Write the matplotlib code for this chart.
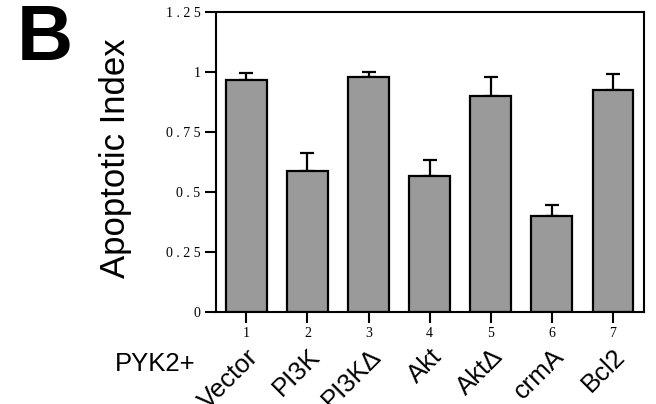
import matplotlib
matplotlib.use("Agg")
import matplotlib.pyplot as plt
import matplotlib.transforms as mtransforms

# data
positions = [1, 2, 3, 4, 5, 6, 7]
categories = ['Vector', 'PI3K', 'PI3K\u0394', 'Akt', 'Akt\u0394', 'crmA', 'Bcl2']
apoptotic_index = [0.967, 0.588, 0.978, 0.567, 0.900, 0.400, 0.925]
upper_err = [0.030, 0.076, 0.022, 0.065, 0.078, 0.047, 0.067]
yticks = [0, 0.25, 0.5, 0.75, 1, 1.25]
ytick_labels = ['0', '0.25', '0.5', '0.75', '1', '1.25']

fig = plt.figure(figsize=(6.56, 4.04), dpi=100)
ax = fig.add_axes([0.329, 0.2277, 0.652, 0.7423])

ax.bar(positions, apoptotic_index, width=0.67, color='#9a9a9a',
       edgecolor='black', linewidth=1.6, zorder=2)
ax.errorbar(positions, apoptotic_index, yerr=[[0] * 7, upper_err], fmt='none',
            ecolor='black', elinewidth=1.6, capsize=5, capthick=1.6, zorder=1)

ax.set_xlim(0.5, 7.5)
ax.set_ylim(0, 1.25)

for s in ax.spines.values():
    s.set_linewidth(1.5)

# spaced-out serif tick labels like the original
def spaced(t):
    return ' '.join(t)

tick_font = dict(family='Liberation Serif', size=10)
ax.set_yticks(yticks)
ax.set_yticklabels([spaced(t) for t in ytick_labels], **tick_font)
ax.set_xticks(positions)
ax.set_xticklabels([str(p) for p in positions], **tick_font)
ax.tick_params(axis='both', direction='out', length=8, width=1.5, pad=3)

# category names under the axis, rotated
trans = mtransforms.blended_transform_factory(ax.transData, fig.transFigure)
for p, name in zip(positions, categories):
    ax.text(p + 0.14, 1 - 353 / 404, name, transform=trans, rotation=45,
            rotation_mode='anchor', ha='right', va='center',
            family='Liberation Sans', fontsize=18.5, clip_on=False)

fig.text(115 / 656, 1 - 364 / 404, 'PYK2+', ha='left', va='center',
         family='Liberation Sans', fontsize=18.5)
fig.text(116 / 656, 1 - 158 / 404, 'Apoptotic Index', rotation=90,
         ha='center', va='center', family='Liberation Sans', fontsize=25)
fig.text(17 / 656, 1 - 40 / 404, 'B', ha='left', va='center',
         family='Liberation Sans', fontweight='bold', fontsize=56)

fig.savefig('out.png', dpi=100)
